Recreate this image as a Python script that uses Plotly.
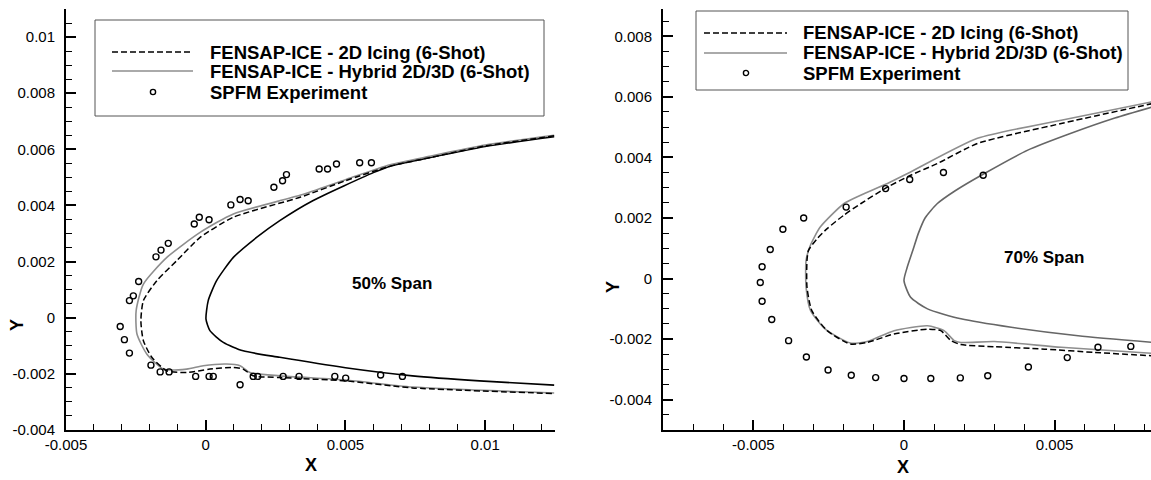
import plotly.graph_objects as go

W, H = 1151, 480

# ---------------- 50% span data ----------------
clean50_x = [0.01247, 0.0100, 0.0080, 0.0066, 0.0060, 0.00383, 0.00265, 0.00182, 0.00099, 0.00039, 0.00009,
             0.00001, 0.00015, 0.00063, 0.00134, 0.00265, 0.0050, 0.0074, 0.0098, 0.01247]
clean50_y = [0.00645, 0.0061, 0.0057, 0.0054, 0.00517, 0.00417, 0.00346, 0.00286, 0.00215, 0.00132, 0.00061,
             -0.00005, -0.00046, -0.00088, -0.00118, -0.00141, -0.00178, -0.00207, -0.00225, -0.0024]

ice2d50_x = [0.01247, 0.0100, 0.0080, 0.0066, 0.0050, 0.0034, 0.00099, -0.0002, -0.00104, -0.00175, -0.00223,
             -0.00232, -0.00223, -0.00193, -0.00139, -0.00068, 0.00015, 0.00099, 0.00134, 0.0017, 0.00265,
             0.0050, 0.0074, 0.01247]
ice2d50_y = [0.00648, 0.00612, 0.0057, 0.0054, 0.00488, 0.0043, 0.00358, 0.00286, 0.00203, 0.00132, 0.00061,
             -0.00011, -0.00082, -0.00141, -0.00189, -0.00195, -0.00183, -0.00177, -0.00183, -0.00207, -0.00213,
             -0.00225, -0.0025, -0.0027]

hyb50_x = [0.01247, 0.0100, 0.0080, 0.0066, 0.0050, 0.0034, 0.00099, -0.0002, -0.00139, -0.00223, -0.00249,
           -0.00246, -0.00211, -0.00151, -0.00068, -0.00009, 0.00075, 0.00123, 0.00158, 0.00265, 0.0050,
           0.0074, 0.01247]
hyb50_y = [0.0065, 0.00615, 0.00575, 0.00545, 0.00492, 0.00437, 0.0037, 0.00304, 0.00215, 0.0012, 0.00025,
           -0.00058, -0.00129, -0.00183, -0.00183, -0.00171, -0.00165, -0.00171, -0.00195, -0.00207, -0.00222,
           -0.00247, -0.00268]

exp50_x = [0.00593, 0.00551, 0.00468, 0.00436, 0.00406, 0.00289, 0.00275, 0.00244, 0.00152, 0.00123, 0.0009,
           0.00012, -0.00023, -0.00041, -0.00134, -0.0016, -0.00178, -0.0024, -0.00259, -0.00273, -0.00306,
           -0.00291, -0.00273, -0.00196, -0.00163, -0.00131, -0.00036, 0.00012, 0.00027, 0.00123, 0.0017,
           0.00186, 0.00277, 0.00334, 0.00462, 0.00501, 0.00626, 0.00704]
exp50_y = [0.00552, 0.00552, 0.00548, 0.0053, 0.0053, 0.0051, 0.00488, 0.00465, 0.00417, 0.00421, 0.00402,
           0.00349, 0.00358, 0.00334, 0.00265, 0.00241, 0.00217, 0.00129, 0.00078, 0.00061, -0.00031,
           -0.00078, -0.00126, -0.00169, -0.00193, -0.00193, -0.00209, -0.00209, -0.00209, -0.00239, -0.00209,
           -0.00209, -0.00209, -0.00209, -0.00209, -0.00215, -0.00204, -0.00209]

# ---------------- 70% span data ----------------
clean70_x = [0.00826, 0.0070, 0.0055, 0.00411, 0.00267, 0.0017, 0.0011, 0.0007, 0.00048, 0.00030,
             0.00010, 0.0, 0.00022, 0.00078, 0.00189, 0.00356, 0.00578, 0.00826]
clean70_y = [0.00567, 0.0053, 0.00478, 0.00424, 0.00347, 0.0029, 0.00247, 0.002, 0.0015, 0.00095,
             0.00035, -0.00007, -0.00062, -0.001, -0.00133, -0.00161, -0.00189, -0.00211]

ice2d70_x = [0.00826, 0.00522, 0.00244, 0.00111, 0.00022, -0.00055, -0.00144, -0.002, -0.00255, -0.00289,
             -0.00317, -0.00322, -0.00322, -0.00306, -0.00255, -0.00178, -0.00122, -0.00033, 0.00078, 0.00122,
             0.00156, 0.00189, 0.003, 0.00467, 0.00633, 0.00826]
ice2d70_y = [0.00578, 0.00512, 0.00446, 0.0038, 0.00341, 0.00302, 0.00247, 0.00209, 0.00165, 0.00131,
             0.00093, 0.0006, -0.00029, -0.00106, -0.00172, -0.00216, -0.00211, -0.00183, -0.00167, -0.00172,
             -0.00205, -0.00218, -0.00225, -0.00233, -0.00244, -0.00255]

hyb70_x = [0.00826, 0.00522, 0.00244, 0.00022, -0.00055, -0.00144, -0.002, -0.00278, -0.00311, -0.00325,
           -0.00325, -0.0031, -0.0026, -0.00178, -0.00122, -0.00033, 0.00078, 0.00133, 0.00167, 0.00189,
           0.003, 0.00522, 0.00826]
hyb70_y = [0.00584, 0.00523, 0.00463, 0.00352, 0.00314, 0.00275, 0.00247, 0.0017, 0.00109, 0.0006,
           -0.00029, -0.00106, -0.00168, -0.00213, -0.00208, -0.00172, -0.00156, -0.00172, -0.00205, -0.00211,
           -0.00208, -0.00227, -0.00247]

exp70_x = [0.00263, 0.00131, 0.00019, -0.00061, -0.00192, -0.00333, -0.00402, -0.00444, -0.00471, -0.00477,
           -0.00471, -0.00439, -0.00383, -0.00324, -0.00252, -0.00175, -0.00094, 0.0, 0.00089, 0.00187,
           0.00278, 0.00413, 0.00542, 0.00644, 0.00753]
exp70_y = [0.00341, 0.0035, 0.00327, 0.00297, 0.00236, 0.002, 0.00163, 0.00096, 0.00039, -0.00013,
           -0.00075, -0.00135, -0.00205, -0.00259, -0.00302, -0.00319, -0.00327, -0.0033, -0.0033, -0.00328,
           -0.00321, -0.00292, -0.00261, -0.00227, -0.00224]

# ---------------- ticks / labels ----------------
x_major_step = 0.005
y_major_step = 0.002
x_minor_step = 0.001
y_minor_step = 0.0005
# labels as printed on the reference (plain hyphen minus)
x50_labels = ["-0.005", "0", "0.005", "0.01"]
y50_labels = ["-0.004", "-0.002", "0", "0.002", "0.004", "0.006", "0.008", "0.01"]
x70_labels = ["-0.005", "0", "0.005"]
y70_labels = ["-0.004", "-0.002", "0", "0.002", "0.004", "0.006", "0.008"]

legend_names = ["FENSAP-ICE - 2D Icing (6-Shot)", "FENSAP-ICE - Hybrid 2D/3D (6-Shot)", "SPFM Experiment"]
span_labels = ["50% Span", "70% Span"]

FONT = "Liberation Sans, Arial, Helvetica, sans-serif"
DASH = "6px,3px"
GRAY = "#8e8e8e"

def px(xp):
    return xp / W

def py(yp):
    return 1 - yp / H

def alias(labels):
    # plotly prints negatives with U+2212; map them to the plain hyphen used in the reference
    return {l.replace("-", "\u2212"): l for l in labels if l.startswith("-")}

fig = go.Figure()

def add_panel(xa, ya, cx, cy, ix, iy, hx, hy, ex, ey, clean_color):
    fig.add_trace(go.Scatter(x=cx, y=cy, mode="lines", xaxis=xa, yaxis=ya,
                             line=dict(color=clean_color, width=1.6, shape="spline", smoothing=0.6),
                             showlegend=False))
    fig.add_trace(go.Scatter(x=hx, y=hy, mode="lines", xaxis=xa, yaxis=ya,
                             line=dict(color=GRAY, width=1.6, shape="spline", smoothing=0.6),
                             showlegend=False))
    fig.add_trace(go.Scatter(x=ix, y=iy, mode="lines", xaxis=xa, yaxis=ya,
                             line=dict(color="black", width=1.5, dash=DASH, shape="spline", smoothing=0.6),
                             showlegend=False))
    fig.add_trace(go.Scatter(x=ex, y=ey, mode="markers", xaxis=xa, yaxis=ya,
                             marker=dict(symbol="circle-open", size=6, color="black", line=dict(width=1.4)),
                             showlegend=False))

add_panel("x", "y", clean50_x, clean50_y, ice2d50_x, ice2d50_y, hyb50_x, hyb50_y, exp50_x, exp50_y, "black")
add_panel("x2", "y2", clean70_x, clean70_y, ice2d70_x, ice2d70_y, hyb70_x, hyb70_y, exp70_x, exp70_y, "#666666")

def axis_cfg(domain, rng, step, minor_step, labels, anchor, standoff):
    return dict(domain=domain, range=rng, tickmode="linear", tick0=0, dtick=step, anchor=anchor,
                labelalias=alias(labels),
                ticks="inside", ticklen=10, tickwidth=2, tickcolor="black",
                showline=True, linewidth=2, linecolor="black", mirror=False,
                showgrid=False, zeroline=False, ticklabelstandoff=standoff, automargin=False,
                tickfont=dict(family=FONT, size=15, color="black"),
                minor=dict(tickmode="linear", tick0=0, dtick=minor_step, ticks="inside",
                           ticklen=6, tickwidth=1, tickcolor="black", showgrid=False))

ydom = [py(430), py(9)]
fig.update_layout(
    width=W, height=H, margin=dict(l=0, r=0, t=0, b=0, autoexpand=False),
    paper_bgcolor="white", plot_bgcolor="white", showlegend=False,
    xaxis=axis_cfg([px(66), px(555)], [-0.005, 0.0125], x_major_step, x_minor_step, x50_labels, "y", 0),
    yaxis=axis_cfg(ydom, [-0.004, 0.011], y_major_step, y_minor_step, y50_labels, "x", 6),
    xaxis2=axis_cfg([px(663), 1.0], [-0.008, 0.0082], x_major_step, x_minor_step, x70_labels, "y2", 0),
    yaxis2=axis_cfg(ydom, [-0.005, 0.0089], y_major_step, y_minor_step, y70_labels, "x2", 6),
)

shapes = []
annots = []

# Axis titles
for (x0, y0, t, ang) in [(17, 325, "Y", -90), (613, 287, "Y", -90), (311, 465, "X", 0), (903, 467, "X", 0)]:
    annots.append(dict(x=px(x0), y=py(y0), xref="paper", yref="paper", text="<b>%s</b>" % t,
                       showarrow=False, textangle=ang, xanchor="center", yanchor="middle",
                       font=dict(family=FONT, size=18, color="black")))

# Span labels (data coordinates)
annots.append(dict(x=0.00665, y=0.00121, xref="x", yref="y", text="<b>%s</b>" % span_labels[0],
                   showarrow=False, font=dict(family=FONT, size=17, color="black")))
annots.append(dict(x=0.00466, y=0.0007, xref="x2", yref="y2", text="<b>%s</b>" % span_labels[1],
                   showarrow=False, font=dict(family=FONT, size=17, color="black")))

# Legends (drawn manually to match box geometry)
def add_legend(box, rows, sample_x, text_x, marker_x):
    x0, y0, x1, y1 = box
    shapes.append(dict(type="rect", xref="paper", yref="paper", x0=px(x0), x1=px(x1), y0=py(y1), y1=py(y0),
                       line=dict(color="#555555", width=1), fillcolor="white", layer="above"))
    shapes.append(dict(type="line", xref="paper", yref="paper", x0=px(sample_x[0]), x1=px(sample_x[1]),
                       y0=py(rows[0]), y1=py(rows[0]), line=dict(color="black", width=1.5, dash=DASH)))
    shapes.append(dict(type="line", xref="paper", yref="paper", x0=px(sample_x[0]), x1=px(sample_x[1]),
                       y0=py(rows[1]), y1=py(rows[1]), line=dict(color=GRAY, width=1.6)))
    r = 2.6
    shapes.append(dict(type="circle", xref="paper", yref="paper", x0=px(marker_x - r), x1=px(marker_x + r),
                       y0=py(rows[2] + r), y1=py(rows[2] - r), line=dict(color="black", width=1.4)))
    for name, ry in zip(legend_names, rows):
        annots.append(dict(x=px(text_x), y=py(ry), xref="paper", yref="paper", text="<b>%s</b>" % name,
                           showarrow=False, xanchor="left", yanchor="middle",
                           font=dict(family=FONT, size=18.5, color="black")))

add_legend((95, 20, 544, 116), [52, 71, 92], (112, 193), 208, 153)
add_legend((696, 11, 1128, 90), [33, 53, 73], (704, 787), 801, 746)

fig.update_layout(shapes=shapes, annotations=annots)
fig.write_html("out.html")
